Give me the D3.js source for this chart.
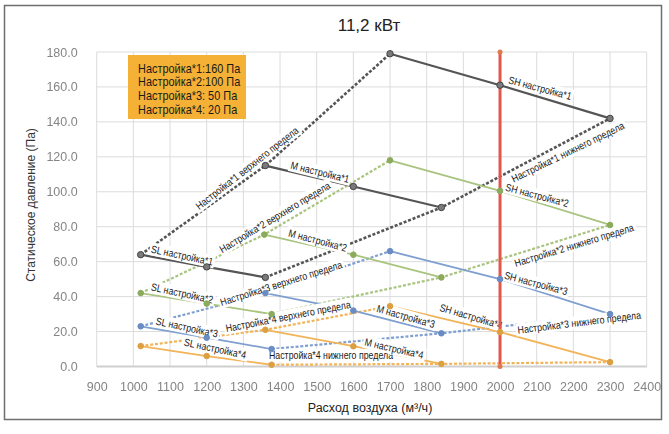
<!DOCTYPE html>
<html>
<head>
<meta charset="utf-8">
<script src="https://cdn.jsdelivr.net/npm/d3@7"></script>
<style>
  body { margin: 0; background: #fff; }
  svg { display: block; font-family: "Liberation Sans", Arial, sans-serif; }
</style>
</head>
<body>
<svg id="chart"></svg>
<script>
// данные графика 11,2 кВт
const legendLines = ["Настройка*1:160 Па", "Настройка*2:100 Па", "Настройка*3: 50 Па", "Настройка*4: 20 Па"];

// SL режим: расход и давление
const slFlow = [[1020, 1200, 1360], [1020, 1200, 1377], [1020, 1200, 1377], [1020, 1200, 1377]];
const slPress = [[64, 57, 51], [42, 36, 30], [23, 16.5, 10], [11.7, 6, 1]];
// M режим
const mFlow = [[1360, 1600, 1840], [1357, 1600, 1840], [1360, 1600, 1840], [1360, 1600, 1840]];
const mPress = [[115, 103, 91], [75.5, 64, 51], [42, 32, 19], [21, 11.6, 1.5]];
// SH режим
const shFlow = [[1700, 2000, 2300], [1700, 2000, 2300], [1700, 2000, 2300], [1700, 2000, 2300]];
const shPress = [[179, 161, 142], [118, 100.5, 81], [66, 50, 30], [34.5, 19.7, 2.5]];

const ratedFlow = 2000;
const xTicks = d3.range(900, 2401, 100);
const yTicks = d3.range(0, 181, 20);

// подписи: текст, расход, давление, угол
const labelText = ["Настройка*1 верхнего предела", "M настройка*1", "SH настройка*1", "Настройка*1 нижнего предела", "SL настройка*1",
  "Настройка*2 верхнего предела", "M настройка*2", "SH настройка*2", "Настройка*2 нижнего предела", "SL настройка*2",
  "Настройка*3 верхнего предела", "M настройка*3", "SH настройка*3", "Настройка*3 нижнего предела", "SL настройка*3",
  "Настройка*4 верхнего предела", "SL настройка*4", "Настройка*4 нижнего предела", "M настройка*4", "SH настройка*4"];
const labelFlow = [1310, 1509, 2109, 2185, 1133, 1386, 1503, 2101, 2202, 1133, 1403, 1743, 2098, 2216, 1146, 1422, 1223, 1539, 1711, 1921];
const labelPress = [113.5, 111.2, 159.4, 122.7, 63.6, 85.4, 72.2, 98, 69.4, 41.9, 47.6, 28.7, 47.6, 25.2, 22.4, 28.7, 10.3, 6.3, 10.3, 28.7];
const labelAngle = [-38, 14, 15, -26, 12, -31, 15, 15, -17, 12, -17.5, 16, 15, -7, 12, -11, 12, 0, 13, 16.5];

const colors = ["#555555", "#a8c47e", "#7f9fd0", "#f1b458"];
const markerColors = ["#7a7a7a", "#8aab5c", "#6a8cc4", "#dca042"];

const W = 669, H = 434;
const svg = d3.select("#chart").attr("width", W).attr("height", H);

const x = d3.scaleLinear().domain([900, 2400]).range([96.7, 646.7]);
const y = d3.scaleLinear().domain([0, 180]).range([366.5, 52]);

// рамка
svg.append("rect").attr("x", 4.5).attr("y", 5.5).attr("width", 657).attr("height", 414)
  .attr("fill", "#fff").attr("stroke", "#6e6e6e").attr("stroke-width", 1.5);

const blur = svg.append("defs").append("filter").attr("id", "soft");
blur.append("feGaussianBlur").attr("stdDeviation", 0.45);

// сетка
const grid = svg.append("g");
grid.selectAll(".gx").data(xTicks).enter().append("line")
  .attr("x1", d => x(d)).attr("x2", d => x(d)).attr("y1", y(180)).attr("y2", y(0))
  .attr("stroke", "#dcdcdc").attr("stroke-width", 1);
grid.selectAll(".gy").data(yTicks).enter().append("line")
  .attr("x1", x(900)).attr("x2", x(2400)).attr("y1", d => y(d)).attr("y2", d => y(d))
  .attr("stroke", d => d === 0 ? "#cfcfcf" : "#dcdcdc").attr("stroke-width", d => d === 0 ? 2 : 1);

// оси
const xAxis = svg.append("g").attr("transform", `translate(0,${y(0) + 13})`)
  .call(d3.axisBottom(x).tickValues(xTicks).tickSize(0).tickFormat(d3.format("d")));
const yAxis = svg.append("g").attr("transform", `translate(${x(900) - 16},0)`)
  .call(d3.axisLeft(y).tickValues(yTicks).tickSize(0).tickFormat(d3.format(".1f")));
[xAxis, yAxis].forEach(a => {
  a.select(".domain").remove();
  a.selectAll("text").attr("fill", "#858585").attr("font-size", 12.5)
    .attr("font-family", "Liberation Sans, Arial, sans-serif").attr("filter", "url(#soft)");
});

const line = d3.line().x(d => x(d[0])).y(d => y(d[1]));
const zip = (a, b) => a.map((v, i) => [v, b[i]]);

// линии пределов (пунктир)
const plot = svg.append("g");
for (let s = 3; s >= 0; s--) {
  const upper = [[slFlow[s][0], slPress[s][0]], [mFlow[s][0], mPress[s][0]], [shFlow[s][0], shPress[s][0]]];
  const lower = [[slFlow[s][2], slPress[s][2]], [mFlow[s][2], mPress[s][2]], [shFlow[s][2], shPress[s][2]]];
  [upper, lower].forEach(pts => {
    plot.append("path").attr("d", line(pts)).attr("fill", "none")
      .attr("stroke", colors[s]).attr("stroke-width", s === 0 ? 2.6 : 2.2)
      .attr("stroke-dasharray", "3,1.8");
  });
}
// сплошные линии SL, M, SH
for (let s = 3; s >= 0; s--) {
  [zip(slFlow[s], slPress[s]), zip(mFlow[s], mPress[s]), zip(shFlow[s], shPress[s])].forEach(pts => {
    plot.append("path").attr("d", line(pts)).attr("fill", "none")
      .attr("stroke", colors[s]).attr("stroke-width", s === 0 ? 2.2 : 1.8);
  });
}

// подписи с белым фоном (узкий шрифт через масштаб по горизонтали)
const labels = svg.append("g").attr("font-family", "Liberation Sans, Arial, sans-serif")
  .attr("font-size", 10.5);
labelText.forEach((t, i) => {
  const g = labels.append("g")
    .attr("transform", `translate(${x(labelFlow[i])},${y(labelPress[i])}) rotate(${labelAngle[i]}) scale(0.84,1)`);
  const bg = g.append("rect").attr("fill", "#ffffff");
  const txt = g.append("text").attr("text-anchor", "middle").attr("dy", "0.35em")
    .attr("fill", "#1a1a1a").text(t);
  const bb = txt.node().getBBox();
  bg.attr("x", bb.x - 2).attr("y", bb.y - 0.5)
    .attr("width", bb.width + 4).attr("height", bb.height + 1);
});

// красная линия номинального расхода
svg.append("line").attr("x1", x(ratedFlow)).attr("x2", x(ratedFlow))
  .attr("y1", y(180)).attr("y2", y(0)).attr("stroke", "#e2564c").attr("stroke-width", 3);
svg.append("g").selectAll("circle").data([0, 180]).enter().append("circle")
  .attr("cx", x(ratedFlow)).attr("cy", d => y(d)).attr("r", 2.5).attr("fill", "#e07a4a");

// маркеры
const marks = svg.append("g");
for (let s = 3; s >= 0; s--) {
  const pts = zip(slFlow[s], slPress[s]).concat(zip(mFlow[s], mPress[s]), zip(shFlow[s], shPress[s]));
  marks.append("g").selectAll("circle").data(pts).enter().append("circle")
    .attr("cx", d => x(d[0])).attr("cy", d => y(d[1])).attr("r", s === 0 ? 3.2 : 2.8)
    .attr("fill", markerColors[s]).attr("stroke", s === 0 ? "#444" : markerColors[s]).attr("stroke-width", 1);
}

// легенда
const leg = svg.append("g").attr("transform", "translate(128,55)");
leg.append("rect").attr("width", 118).attr("height", 64).attr("fill", "#f4b135");
leg.selectAll("text").data(legendLines).enter().append("text")
  .attr("transform", (d, i) => `translate(10,${17.5 + i * 13.8}) scale(0.84,1)`)
  .attr("font-size", 13).attr("fill", "#1a1a1a").text(d => d);

// заголовки
svg.append("text").attr("x", 369).attr("y", 31).attr("text-anchor", "middle")
  .attr("font-size", 17).attr("fill", "#222").text("11,2 кВт");
svg.append("text").attr("transform", "translate(35,205) rotate(-90)").attr("text-anchor", "middle")
  .attr("font-size", 12).attr("fill", "#333").text("Статическое давление (Па)");
svg.append("text").attr("x", 370).attr("y", 412).attr("text-anchor", "middle")
  .attr("font-size", 12.5).attr("fill", "#222").text("Расход воздуха (м³/ч)");
</script>
</body>
</html>
